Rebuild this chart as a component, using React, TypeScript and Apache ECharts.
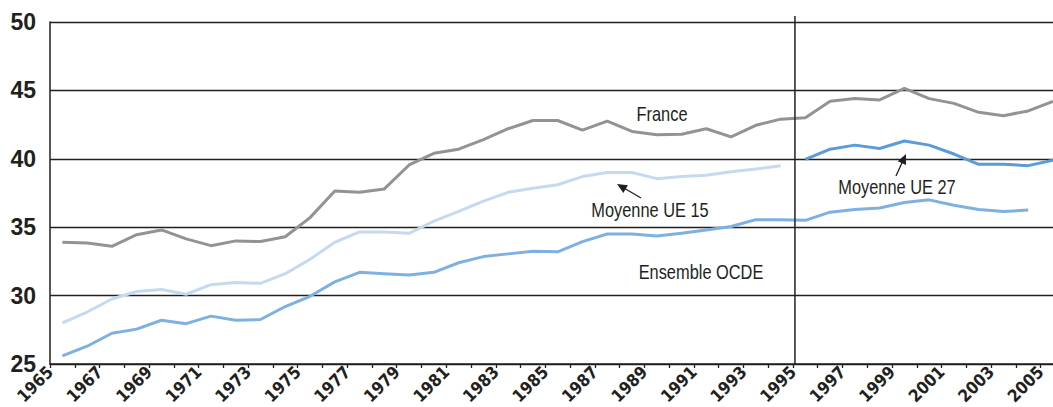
import React, { useEffect, useRef } from "react";
import * as echarts from "echarts";

const francePoints = [
  33.9, 33.85, 33.6, 34.45, 34.8, 34.15, 33.65, 34.0, 33.95, 34.3,
  35.7, 37.65, 37.55, 37.8, 39.55, 40.4, 40.7, 41.4, 42.2, 42.8,
  42.8, 42.1, 42.75, 42.0, 41.75, 41.8, 42.2, 41.6, 42.45, 42.9,
  43.0, 44.2, 44.4, 44.3, 45.15, 44.4, 44.05, 43.4, 43.15, 43.5, 44.2,
];
const franceStart = 1965;

const ue15Points = [
  28.0, 28.8, 29.75, 30.3, 30.45, 30.1, 30.8, 30.95, 30.9, 31.6,
  32.65, 33.9, 34.65, 34.65, 34.55, 35.45, 36.15, 36.9, 37.55, 37.85,
  38.1, 38.7, 39.0, 39.0, 38.55, 38.7, 38.8, 39.05, 39.25, 39.5,
];
const ue15Start = 1965;

const ocdePoints = [
  25.6, 26.3, 27.25, 27.55, 28.2, 27.95, 28.5, 28.2, 28.25, 29.2,
  29.95, 31.0, 31.7, 31.6, 31.5, 31.7, 32.4, 32.85, 33.05, 33.25,
  33.2, 33.95, 34.5, 34.5, 34.35, 34.55, 34.8, 35.05, 35.55, 35.55,
  35.5, 36.1, 36.3, 36.4, 36.8, 37.0, 36.6, 36.3, 36.15, 36.25,
];
const ocdeStart = 1965;

const ue27Points = [39.95, 40.7, 41.0, 40.75, 41.3, 41.0, 40.35, 39.6, 39.6, 39.5, 39.9];
const ue27Start = 1995;

const yTicks = [25, 30, 35, 40, 45, 50];
const firstYear = 1965;
const dividerYear = 1995;

const toPairs = (start: number, vals: number[]) =>
  vals.map((v, i) => [start + i + 0.5, v]);

const INK = "#231f20";
const COND = "'DejaVu Sans Condensed', 'Liberation Sans Narrow', sans-serif";

function arrow(tail: [number, number], tip: [number, number]) {
  const dx = tip[0] - tail[0];
  const dy = tip[1] - tail[1];
  const len = Math.hypot(dx, dy);
  const ux = dx / len;
  const uy = dy / len;
  const hl = 10;
  const hw = 4.5;
  const bx = tip[0] - ux * hl;
  const by = tip[1] - uy * hl;
  return [
    {
      type: "line",
      shape: { x1: tail[0], y1: tail[1], x2: bx + ux * 2, y2: by + uy * 2 },
      style: { stroke: INK, lineWidth: 1.3 },
    },
    {
      type: "polygon",
      shape: {
        points: [
          [tip[0], tip[1]],
          [bx - uy * hw, by + ux * hw],
          [bx + uy * hw, by - ux * hw],
        ],
      },
      style: { fill: INK },
    },
  ];
}

function label(text: string, x: number, y: number) {
  return {
    type: "text",
    x,
    y,
    scaleX: 0.82,
    style: {
      text,
      fontFamily: "'Liberation Sans', Arial, sans-serif",
      fontSize: 20,
      fill: INK,
      align: "center",
      verticalAlign: "middle",
    },
  };
}

export default function App() {
  const ref = useRef<HTMLDivElement>(null);

  useEffect(() => {
    if (!ref.current) return;
    const chart = echarts.init(ref.current, undefined, { renderer: "svg" });
    const lineSeries = (name: string, data: number[][], color: string) => ({
      type: "line",
      name,
      data,
      showSymbol: false,
      symbol: "none",
      lineStyle: { color, width: 3 },
      itemStyle: { color },
      z: 3,
    });
    chart.setOption({
      animation: false,
      backgroundColor: "#ffffff",
      grid: {
        left: 50,
        right: 0,
        top: 22,
        bottom: 43,
        containLabel: false,
        outerBoundsMode: "none",
      },
      xAxis: {
        type: "value",
        min: firstYear,
        max: 2005.5,
        interval: 1,
        axisLine: { show: true, lineStyle: { color: INK, width: 1.5 } },
        axisTick: { show: true, length: 4, lineStyle: { color: INK, width: 1.3 } },
        splitLine: { show: false },
        axisLabel: {
          show: true,
          rotate: 45,
          margin: 5,
          showMaxLabel: false,
          hideOverlap: false,
          fontFamily: COND,
          fontWeight: "bold",
          fontSize: 17,
          lineHeight: 17,
          color: INK,
          formatter: (v: number) => (Number.isInteger(v) && v % 2 === 1 ? String(v) : ""),
        },
      },
      yAxis: {
        type: "value",
        min: yTicks[0],
        max: yTicks[yTicks.length - 1],
        interval: 5,
        axisLine: { show: true, lineStyle: { color: INK, width: 1.5 } },
        axisTick: { show: false },
        splitLine: { show: true, lineStyle: { color: INK, width: 1.3 } },
        axisLabel: {
          margin: 14,
          fontFamily: "'Liberation Sans', Arial, sans-serif",
          fontWeight: "bold",
          fontSize: 23,
          color: INK,
        },
      },
      series: [
        lineSeries("France", toPairs(franceStart, francePoints), "#939393"),
        lineSeries("Moyenne UE 15", toPairs(ue15Start, ue15Points), "#c5daf1"),
        lineSeries("Ensemble OCDE", toPairs(ocdeStart, ocdePoints), "#7eb1e1"),
        lineSeries("Moyenne UE 27", toPairs(ue27Start, ue27Points), "#5a9bd8"),
      ],
    });

    const vx = chart.convertToPixel({ xAxisIndex: 0 }, dividerYear + 0.08) as number;
    const yBottom = chart.convertToPixel({ yAxisIndex: 0 }, yTicks[0]) as number;
    chart.setOption({
      graphic: [
        {
          type: "line",
          shape: { x1: vx, y1: 16, x2: vx, y2: yBottom },
          style: { stroke: INK, lineWidth: 1.5 },
          z: 10,
        },
        label("France", 662, 114),
        label("Moyenne UE 15", 650, 210),
        label("Ensemble OCDE", 701, 272),
        label("Moyenne UE 27", 897, 187),
        ...arrow([641, 198], [617, 184]),
        ...arrow([896, 176], [906, 154]),
      ],
    });

    return () => chart.dispose();
  }, []);

  return (
    <div
      ref={ref}
      style={{ position: "fixed", left: 0, top: 0, width: 1053, height: 407 }}
    />
  );
}
